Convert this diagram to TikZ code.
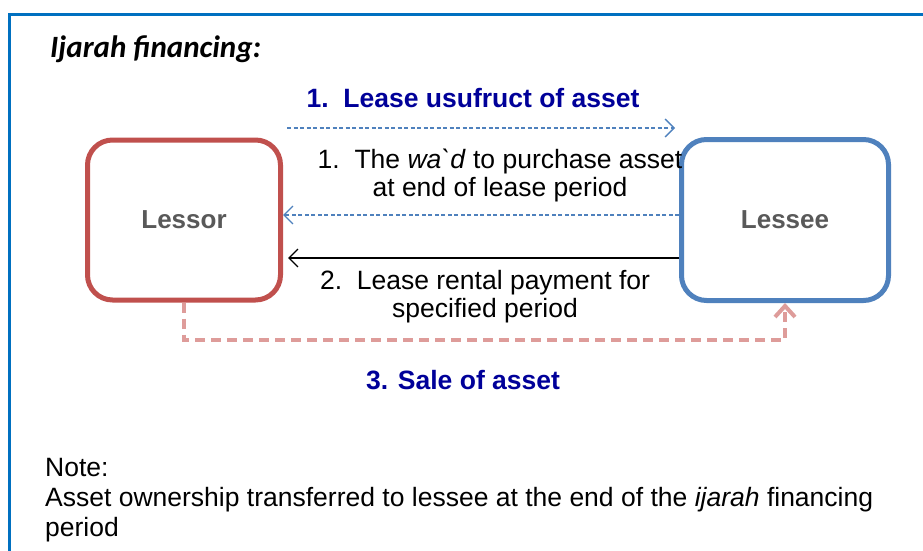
\documentclass[tikz,border=0pt]{standalone}
\usepackage{fontspec}
\setmainfont{Liberation Sans}
\newfontfamily\carlito{Carlito}
\newfontfamily\nomapfont{Liberation Sans}[Ligatures=TeXOff]
\usetikzlibrary{arrows.meta,calc}
\definecolor{frameblue}{HTML}{0070C0}
\definecolor{lessorred}{HTML}{C0504D}
\definecolor{lesseeblue}{HTML}{4F81BD}
\definecolor{pinkline}{HTML}{DE9C9A}
\definecolor{navytext}{HTML}{000099}
\definecolor{boxtext}{HTML}{595959}
\tikzset{
  party/.style={rounded corners=25pt, line width=5pt, fill=white,
    font=\fontsize{26}{28}\selectfont\bfseries, text=boxtext, inner sep=0pt},
  bluedash/.style={lesseeblue, line width=1.3pt, dash pattern=on 4pt off 2.5pt,
    -{Straight Barb[length=9pt,width=18pt,line width=1.3pt]}},
  label/.style={font=\fontsize{26.5}{28}\selectfont, align=center, inner sep=0pt},
  headlabel/.style={font=\fontsize{26.5}{28}\selectfont\bfseries, text=navytext, inner sep=0pt}
}
\begin{document}
\begin{tikzpicture}[x=1pt,y=-1pt]
\useasboundingbox (0,0) rectangle (923,551);
% frame
\draw[frameblue, line width=3pt] (9,600) -- (9,15) -- (940,15);
% title
\node[anchor=west, inner sep=0pt, font=\carlito\fontsize{31}{34}\selectfont\bfseries\itshape] (title) at (50,49) {Ijarah financing:};
% parties
\node[party, draw=lessorred, minimum width=193pt, minimum height=160pt] (lessor) at (184,220) {Lessor};
\node[party, draw=lesseeblue, minimum width=207pt, minimum height=161pt] (lessee) at (785,220) {Lessee};
% labels
\node[headlabel] (l1) at (473,98) {1.\ \ Lease usufruct of asset};
\node[label] (l2) at (500,175) {1.\ \ The \textit{wa{\nomapfont`}d} to purchase asset\\at end of lease period};
\node[label] (l3) at (485,297) {2.\ \ Lease rental payment for\\specified period};
\node[headlabel] (l4) at (463,380) {3. Sale of asset};
% arrow coordinates
\coordinate (a1s) at (287,128);
\coordinate (a1e) at (675,128);
\draw[bluedash] (a1s) -- (a1e);
\draw[bluedash] (lessee.west |- 0,215) -- (lessor.east |- 0,215);
\draw[black, line width=1.3pt, -{Straight Barb[length=9pt,width=18pt,line width=1.3pt]}, shorten >=5pt]
  (lessee.west |- 0,258) -- (lessor.east |- 0,258);
% sale arrow
\draw[pinkline, line width=4pt, dash pattern=on 10pt off 6pt,
  -{Straight Barb[length=11pt,width=20pt,line width=4pt]}]
  (lessor.south) -- ++(0,37) -| (lessee.south);
% note
\node[anchor=north west, align=left, inner sep=0pt, font=\fontsize{26.5}{30}\selectfont] (note) at (45,458)
  {Note:\\Asset ownership transferred to lessee at the end of the \textit{ijarah} financing\\period};
\end{tikzpicture}
\end{document}
